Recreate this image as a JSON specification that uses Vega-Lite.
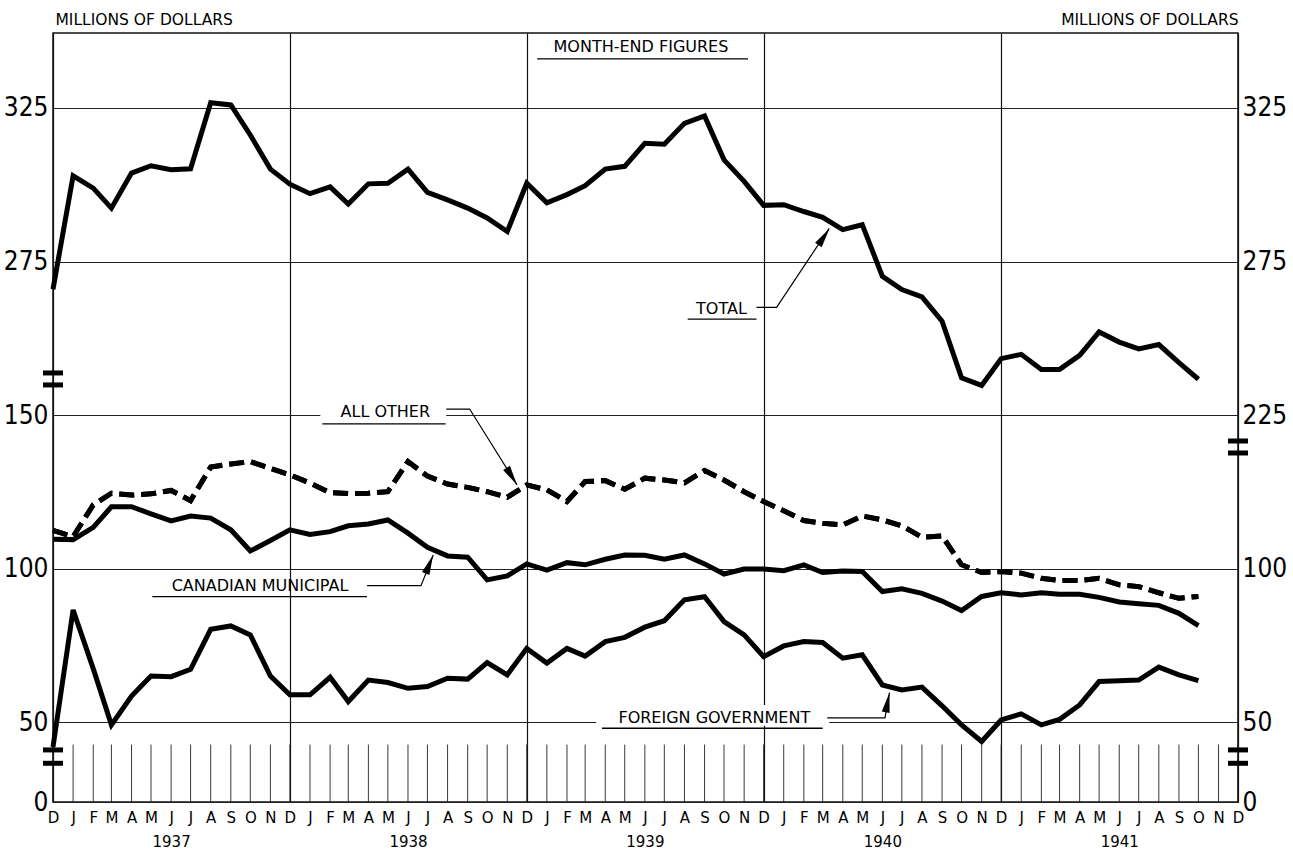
{
  "$schema": "https://vega.github.io/schema/vega-lite/v6.json",
  "width": 1185,
  "height": 769,
  "autosize": {"type": "none"},
  "padding": {"left": 53, "top": 33, "right": 55, "bottom": 51},
  "background": "white",
  "config": {"view": {"stroke": "#111", "strokeWidth": 1.5}},
  "datasets": {
    "series": [
      {"date": "1936-12-01", "total": 266.0, "other": 112.5, "municipal": 109.6, "foreign": 42.0},
      {"date": "1937-01-01", "total": 302.9, "other": 110.5, "municipal": 109.5, "foreign": 86.6},
      {"date": "1937-02-01", "total": 298.9, "other": 120.8, "municipal": 113.5, "foreign": 67.5},
      {"date": "1937-03-01", "total": 292.4, "other": 124.6, "municipal": 120.2, "foreign": 49.2},
      {"date": "1937-04-01", "total": 303.8, "other": 124.0, "municipal": 120.2, "foreign": 58.6},
      {"date": "1937-05-01", "total": 306.2, "other": 124.4, "municipal": 117.9, "foreign": 65.1},
      {"date": "1937-06-01", "total": 304.9, "other": 125.5, "municipal": 115.6, "foreign": 64.9},
      {"date": "1937-07-01", "total": 305.2, "other": 122.2, "municipal": 117.2, "foreign": 67.3},
      {"date": "1937-08-01", "total": 326.7, "other": 133.1, "municipal": 116.5, "foreign": 80.3},
      {"date": "1937-09-01", "total": 326.0, "other": 134.1, "municipal": 112.7, "foreign": 81.4},
      {"date": "1937-10-01", "total": 316.2, "other": 134.9, "municipal": 105.8, "foreign": 78.5},
      {"date": "1937-11-01", "total": 305.1, "other": 132.7, "municipal": 109.2, "foreign": 65.1},
      {"date": "1937-12-01", "total": 300.2, "other": 130.6, "municipal": 112.7, "foreign": 59.0},
      {"date": "1938-01-01", "total": 297.1, "other": 127.9, "municipal": 111.2, "foreign": 59.0},
      {"date": "1938-02-01", "total": 299.3, "other": 124.8, "municipal": 112.1, "foreign": 64.7},
      {"date": "1938-03-01", "total": 293.7, "other": 124.5, "municipal": 114.0, "foreign": 56.8},
      {"date": "1938-04-01", "total": 300.3, "other": 124.6, "municipal": 114.6, "foreign": 63.8},
      {"date": "1938-05-01", "total": 300.5, "other": 125.1, "municipal": 115.9, "foreign": 63.0},
      {"date": "1938-06-01", "total": 305.1, "other": 134.9, "municipal": 111.6, "foreign": 61.1},
      {"date": "1938-07-01", "total": 297.5, "other": 130.2, "municipal": 107.0, "foreign": 61.7},
      {"date": "1938-08-01", "total": 295.1, "other": 127.6, "municipal": 104.2, "foreign": 64.4},
      {"date": "1938-09-01", "total": 292.4, "other": 126.5, "municipal": 103.8, "foreign": 64.1},
      {"date": "1938-10-01", "total": 289.2, "other": 125.1, "municipal": 96.4, "foreign": 69.5},
      {"date": "1938-11-01", "total": 284.8, "other": 123.3, "municipal": 97.7, "foreign": 65.5},
      {"date": "1938-12-01", "total": 300.5, "other": 127.3, "municipal": 101.6, "foreign": 74.1},
      {"date": "1939-01-01", "total": 294.1, "other": 125.7, "municipal": 99.6, "foreign": 69.3},
      {"date": "1939-02-01", "total": 296.8, "other": 121.9, "municipal": 102.0, "foreign": 74.1},
      {"date": "1939-03-01", "total": 299.7, "other": 128.4, "municipal": 101.3, "foreign": 71.6},
      {"date": "1939-04-01", "total": 305.1, "other": 128.7, "municipal": 103.1, "foreign": 76.3},
      {"date": "1939-05-01", "total": 306.0, "other": 125.9, "municipal": 104.5, "foreign": 77.7},
      {"date": "1939-06-01", "total": 313.5, "other": 129.5, "municipal": 104.4, "foreign": 81.0},
      {"date": "1939-07-01", "total": 313.2, "other": 128.9, "municipal": 103.1, "foreign": 83.1},
      {"date": "1939-08-01", "total": 320.0, "other": 128.0, "municipal": 104.5, "foreign": 89.9},
      {"date": "1939-09-01", "total": 322.4, "other": 132.0, "municipal": 101.6, "foreign": 90.9},
      {"date": "1939-10-01", "total": 308.1, "other": 128.9, "municipal": 98.3, "foreign": 82.8},
      {"date": "1939-11-01", "total": 301.1, "other": 125.1, "municipal": 99.9, "foreign": 78.5},
      {"date": "1939-12-01", "total": 293.3, "other": 121.9, "municipal": 99.9, "foreign": 71.4},
      {"date": "1940-01-01", "total": 293.5, "other": 118.9, "municipal": 99.4, "foreign": 74.9},
      {"date": "1940-02-01", "total": 291.3, "other": 115.7, "municipal": 101.3, "foreign": 76.3},
      {"date": "1940-03-01", "total": 289.4, "other": 114.8, "municipal": 98.8, "foreign": 76.0},
      {"date": "1940-04-01", "total": 285.4, "other": 114.3, "municipal": 99.3, "foreign": 70.9},
      {"date": "1940-05-01", "total": 287.0, "other": 117.2, "municipal": 99.1, "foreign": 72.0},
      {"date": "1940-06-01", "total": 270.2, "other": 115.9, "municipal": 92.6, "foreign": 62.2},
      {"date": "1940-07-01", "total": 265.9, "other": 114.0, "municipal": 93.5, "foreign": 60.6},
      {"date": "1940-08-01", "total": 263.5, "other": 110.3, "municipal": 92.0, "foreign": 61.5},
      {"date": "1940-09-01", "total": 255.6, "other": 110.7, "municipal": 89.5, "foreign": 55.4},
      {"date": "1940-10-01", "total": 237.2, "other": 101.3, "municipal": 86.4, "foreign": 49.2},
      {"date": "1940-11-01", "total": 234.7, "other": 98.8, "municipal": 91.0, "foreign": 43.8},
      {"date": "1940-12-01", "total": 243.4, "other": 99.1, "municipal": 92.2, "foreign": 50.8},
      {"date": "1941-01-01", "total": 244.8, "other": 98.6, "municipal": 91.5, "foreign": 52.8},
      {"date": "1941-02-01", "total": 239.9, "other": 96.9, "municipal": 92.2, "foreign": 49.2},
      {"date": "1941-03-01", "total": 239.9, "other": 96.2, "municipal": 91.7, "foreign": 51.0},
      {"date": "1941-04-01", "total": 244.5, "other": 96.2, "municipal": 91.7, "foreign": 55.7},
      {"date": "1941-05-01", "total": 252.1, "other": 96.9, "municipal": 90.7, "foreign": 63.3},
      {"date": "1941-06-01", "total": 248.8, "other": 94.8, "municipal": 89.2, "foreign": 63.6},
      {"date": "1941-07-01", "total": 246.6, "other": 94.2, "municipal": 88.6, "foreign": 63.8},
      {"date": "1941-08-01", "total": 248.0, "other": 92.2, "municipal": 88.1, "foreign": 68.0},
      {"date": "1941-09-01", "total": 242.1, "other": 90.4, "municipal": 85.5, "foreign": 65.5},
      {"date": "1941-10-01", "total": 236.7, "other": 91.0, "municipal": 81.5, "foreign": 63.6},
      {"date": "1941-11-01", "total": null, "other": null, "municipal": null, "foreign": null},
      {"date": "1941-12-01", "total": null, "other": null, "municipal": null, "foreign": null}
    ]
  },
  "encoding": {
    "x": {
      "field": "date",
      "type": "temporal",
      "scale": {
        "type": "utc",
        "nice": false,
        "domain": [
          {"year": 1936, "month": 12, "date": 1, "utc": true},
          {"year": 1941, "month": 12, "date": 1, "utc": true}
        ]
      },
      "axis": {
        "title": null,
        "domain": false,
        "ticks": false,
        "grid": true,
        "gridColor": "#111",
        "gridWidth": 1.2,
        "gridOpacity": {"condition": {"test": "utcmonth(datum.value) == 11", "value": 1}, "value": 0},
        "tickCount": {"interval": "month", "step": 1},
        "labelExpr": "utcmonth(datum.value) == 5 ? [substring(utcFormat(datum.value, '%b'), 0, 1), utcFormat(datum.value, '%Y')] : substring(utcFormat(datum.value, '%b'), 0, 1)",
        "labelFont": "DejaVu Sans",
        "labelFontSize": 15,
        "labelColor": "#000",
        "labelPadding": 8,
        "labelLineHeight": 24,
        "labelOverlap": false,
        "labelFlush": false,
        "labelBound": false
      }
    }
  },
  "layer": [
    {
      "data": {"name": "series"},
      "mark": {"type": "line", "color": "#000", "strokeWidth": 5, "strokeDash": [15, 7], "strokeJoin": "miter", "strokeMiterLimit": 2.5},
      "encoding": {
        "y": {
          "field": "other",
          "type": "quantitative",
          "scale": {"domain": [24.1, 274.4], "nice": false, "zero": false},
          "axis": {
            "orient": "left",
            "values": [24.1, 50, 100, 150, 200, 250],
            "labelExpr": "datum.value < 30 ? '0' : datum.value > 240 ? '325' : datum.value > 190 ? '275' : datum.label",
            "grid": true,
            "gridColor": "#222",
            "gridWidth": 1,
            "domain": false,
            "ticks": false,
            "labelFont": "Liberation Sans Narrow, DejaVu Sans Condensed, sans-serif",
            "labelFontSize": 26,
            "labelColor": "#000",
            "labelPadding": 5,
            "labelFlush": false,
            "labelOverlap": false,
            "title": "MILLIONS OF DOLLARS",
            "titleAngle": 0,
            "titleAlign": "left",
            "titleBaseline": "alphabetic",
            "titleX": 2,
            "titleY": -9,
            "titleFont": "DejaVu Sans",
            "titleFontSize": 15.5,
            "titleFontWeight": "normal",
            "titleColor": "#000"
          }
        }
      }
    },
    {
      "data": {
        "values": [
          {"date": "1938-01-17", "date2": "1938-07-30", "v": 154.3, "v2": 148.4},
          {"date": "1939-03-18", "date2": "1940-03-11", "v": 55.7, "v2": 48.9}
        ],
        "format": {"parse": {"date": "date", "date2": "date"}}
      },
      "mark": {"type": "rect", "color": "white", "opacity": 1},
      "encoding": {
        "x2": {"field": "date2"},
        "y": {"field": "v", "type": "quantitative", "scale": {"domain": [24.1, 274.4], "nice": false, "zero": false}, "axis": null},
        "y2": {"field": "v2"}
      }
    },
    {
      "data": {"name": "series"},
      "mark": {"type": "rule", "color": "#222", "strokeWidth": 0.9},
      "encoding": {
        "y": {"datum": 24.1, "type": "quantitative", "scale": {"domain": [24.1, 274.4], "nice": false, "zero": false}, "axis": null},
        "y2": {"datum": 42.8}
      }
    },
    {
      "data": {"name": "series"},
      "mark": {"type": "line", "color": "#000", "strokeWidth": 5, "strokeDash": [15, 7], "strokeJoin": "miter", "strokeMiterLimit": 2.5},
      "encoding": {
        "y": {"field": "other", "type": "quantitative", "scale": {"domain": [24.1, 274.4], "nice": false, "zero": false}, "axis": null}
      }
    },
    {
      "data": {"name": "series"},
      "mark": {"type": "line", "color": "#000", "strokeWidth": 5, "strokeJoin": "miter", "strokeMiterLimit": 2.5},
      "encoding": {
        "y": {"field": "municipal", "type": "quantitative", "scale": {"domain": [24.1, 274.4], "nice": false, "zero": false}, "axis": null}
      }
    },
    {
      "data": {"name": "series"},
      "mark": {"type": "line", "color": "#000", "strokeWidth": 5, "strokeJoin": "miter", "strokeMiterLimit": 2.5},
      "encoding": {
        "y": {"field": "foreign", "type": "quantitative", "scale": {"domain": [24.1, 274.4], "nice": false, "zero": false}, "axis": null}
      }
    },
    {
      "data": {
        "values": [
          {"date": "1936-12-01", "v": 163.75},
          {"date": "1936-12-01", "v": 159.85},
          {"date": "1936-12-01", "v": 41.05},
          {"date": "1936-12-01", "v": 36.7},
          {"date": "1941-12-01", "v": 141.6},
          {"date": "1941-12-01", "v": 137.7},
          {"date": "1941-12-01", "v": 41.05},
          {"date": "1941-12-01", "v": 36.7}
        ]
      },
      "mark": {"type": "tick", "orient": "horizontal", "size": 20, "thickness": 5, "color": "#000", "opacity": 1},
      "encoding": {
        "y": {"field": "v", "type": "quantitative", "scale": {"domain": [24.1, 274.4], "nice": false, "zero": false}, "axis": null}
      }
    },
    {
      "data": {
        "values": [
          {"date": "1939-05-26", "v": 269.85, "t": "MONTH-END FIGURES"},
          {"date": "1939-09-27", "v": 184.7, "t": "TOTAL"},
          {"date": "1938-04-27", "v": 151.06, "t": "ALL OTHER"},
          {"date": "1937-10-16", "v": 94.26, "t": "CANADIAN MUNICIPAL"},
          {"date": "1939-09-16", "v": 51.46, "t": "FOREIGN GOVERNMENT"}
        ]
      },
      "mark": {"type": "text", "font": "DejaVu Sans", "fontSize": 16, "color": "#000", "align": "center", "baseline": "middle"},
      "encoding": {
        "y": {"field": "v", "type": "quantitative", "scale": {"domain": [24.1, 274.4], "nice": false, "zero": false}, "axis": null},
        "text": {"field": "t"}
      }
    },
    {
      "data": {
        "values": [
          {"date": "1938-12-17", "date2": "1939-11-07", "v": 265.95},
          {"date": "1939-08-06", "date2": "1939-11-20", "v": 181.3},
          {"date": "1938-01-20", "date2": "1938-07-29", "v": 147.15},
          {"date": "1937-05-03", "date2": "1938-03-30", "v": 90.94},
          {"date": "1939-03-27", "date2": "1940-03-01", "v": 48.1}
        ],
        "format": {"parse": {"date": "date", "date2": "date"}}
      },
      "mark": {"type": "rule", "color": "#000", "strokeWidth": 1.3},
      "encoding": {
        "x2": {"field": "date2"},
        "y": {"field": "v", "type": "quantitative", "scale": {"domain": [24.1, 274.4], "nice": false, "zero": false}, "axis": null}
      }
    },
    {
      "data": {
        "values": [
          {"g": "total", "date": "1939-11-20", "v": 185.1},
          {"g": "total", "date": "1939-12-21", "v": 185.1},
          {"g": "total", "date": "1940-03-11", "v": 210.8},
          {"g": "other", "date": "1938-07-30", "v": 152.0},
          {"g": "other", "date": "1938-09-04", "v": 152.0},
          {"g": "other", "date": "1938-11-16", "v": 127.3},
          {"g": "municipal", "date": "1938-03-30", "v": 94.5},
          {"g": "municipal", "date": "1938-06-21", "v": 94.5},
          {"g": "municipal", "date": "1938-07-10", "v": 104.5},
          {"g": "foreign", "date": "1940-03-08", "v": 51.5},
          {"g": "foreign", "date": "1940-06-05", "v": 51.5},
          {"g": "foreign", "date": "1940-06-12", "v": 59.7}
        ]
      },
      "mark": {"type": "line", "color": "#000", "strokeWidth": 1.2},
      "encoding": {
        "y": {"field": "v", "type": "quantitative", "scale": {"domain": [24.1, 274.4], "nice": false, "zero": false}, "axis": null},
        "detail": {"field": "g"}
      }
    },
    {
      "data": {
        "values": [
          {"date": "1940-03-03", "v": 208.1, "ang": 34},
          {"date": "1938-11-08", "v": 130.06, "ang": 148},
          {"date": "1938-07-04", "v": 101.5, "ang": 22},
          {"date": "1940-06-09", "v": 56.5, "ang": 11}
        ]
      },
      "mark": {"type": "point", "shape": "M0,-1L0.4,1L-0.4,1Z", "size": 400, "filled": true, "color": "#000", "opacity": 1, "strokeWidth": 0},
      "encoding": {
        "y": {"field": "v", "type": "quantitative", "scale": {"domain": [24.1, 274.4], "nice": false, "zero": false}, "axis": null},
        "angle": {"field": "ang", "type": "quantitative", "scale": null}
      }
    },
    {
      "data": {"name": "series"},
      "mark": {"type": "line", "color": "#000", "strokeWidth": 5, "strokeJoin": "miter", "strokeMiterLimit": 2.5},
      "encoding": {
        "y": {
          "field": "total",
          "type": "quantitative",
          "scale": {"domain": [99.1, 349.4], "nice": false, "zero": false},
          "axis": {
            "orient": "right",
            "values": [99.1, 125, 175, 225, 275, 325],
            "labelExpr": "datum.value < 110 ? '0' : datum.value < 150 ? '50' : datum.value < 200 ? '100' : datum.label",
            "grid": false,
            "domain": false,
            "ticks": false,
            "labelFont": "Liberation Sans Narrow, DejaVu Sans Condensed, sans-serif",
            "labelFontSize": 26,
            "labelColor": "#000",
            "labelPadding": 4,
            "labelFlush": false,
            "labelOverlap": false,
            "title": "MILLIONS OF DOLLARS",
            "titleAngle": 0,
            "titleAlign": "right",
            "titleBaseline": "alphabetic",
            "titleX": 0,
            "titleY": -9,
            "titleFont": "DejaVu Sans",
            "titleFontSize": 15.5,
            "titleFontWeight": "normal",
            "titleColor": "#000"
          }
        }
      }
    }
  ],
  "resolve": {"scale": {"y": "independent"}}
}
